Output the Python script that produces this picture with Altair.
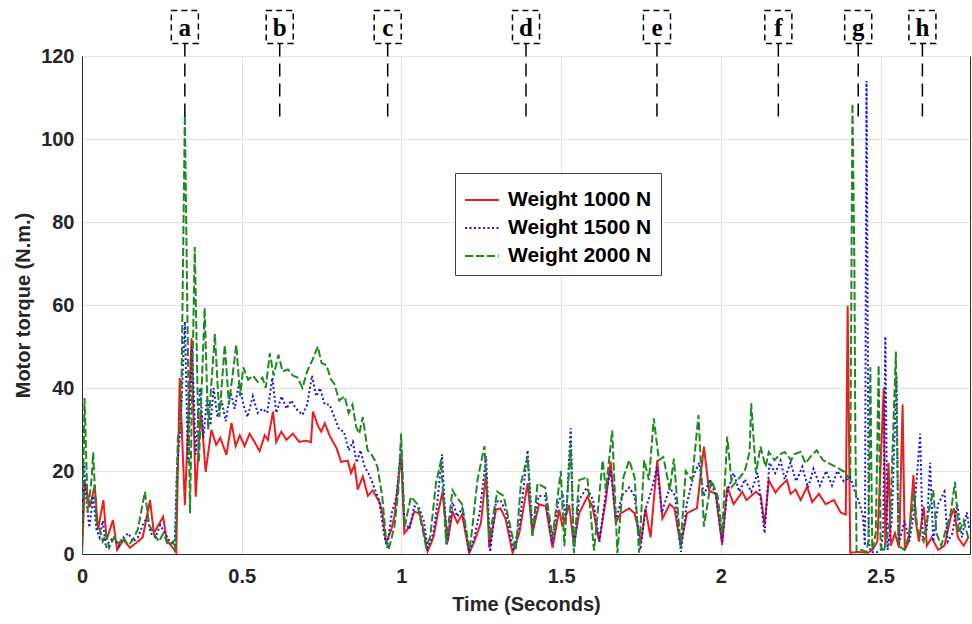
import altair as alt
import pandas as pd

series_names = ["Weight 1000 N", "Weight 1500 N", "Weight 2000 N"]
series_colors = ["#ee1c1c", "#1414f0", "#1e8a1e"]
series_dashes = [[1, 0], [2, 2.5], [8, 3]]

red_t = [
    0.000, 0.009, 0.025, 0.040, 0.050, 0.067, 0.077, 0.097, 0.110, 0.130,
    0.150, 0.170, 0.190, 0.213, 0.225, 0.254, 0.265, 0.286, 0.295, 0.306,
    0.322, 0.343, 0.356, 0.372, 0.387, 0.405, 0.420, 0.433, 0.452, 0.468,
    0.481, 0.494, 0.509, 0.525, 0.540, 0.556, 0.572, 0.582, 0.598, 0.608,
    0.624, 0.640, 0.660, 0.680, 0.700, 0.717, 0.723, 0.738, 0.749, 0.760,
    0.776, 0.797, 0.811, 0.832, 0.842, 0.853, 0.863, 0.879, 0.895, 0.910,
    0.932, 0.940, 0.952, 0.968, 0.978, 0.999, 1.009, 1.025, 1.040, 1.056,
    1.066, 1.082, 1.100, 1.114, 1.129, 1.145, 1.160, 1.175, 1.190, 1.212,
    1.227, 1.249, 1.265, 1.275, 1.296, 1.310, 1.326, 1.348, 1.369, 1.395,
    1.410, 1.431, 1.452, 1.473, 1.494, 1.504, 1.525, 1.540, 1.556, 1.582,
    1.598, 1.619, 1.640, 1.655, 1.671, 1.686, 1.713, 1.730, 1.750, 1.764,
    1.780, 1.801, 1.817, 1.840, 1.855, 1.874, 1.894, 1.910, 1.925, 1.947,
    1.963, 1.984, 2.004, 2.020, 2.040, 2.067, 2.080, 2.110, 2.125, 2.137,
    2.150, 2.171, 2.185, 2.207, 2.218, 2.234, 2.250, 2.270, 2.286, 2.307,
    2.328, 2.354, 2.375, 2.391, 2.397, 2.405, 2.430, 2.460, 2.475, 2.490,
    2.510, 2.515, 2.525, 2.532, 2.545, 2.558, 2.569, 2.576, 2.588, 2.603,
    2.610, 2.620, 2.635, 2.645, 2.660, 2.680, 2.700, 2.720, 2.730, 2.742,
    2.760, 2.775]
red_y = [
    0.0, 17.4, 11.4, 16.6, 5.8, 13.0, 3.4, 8.2, 1.0, 3.4,
    1.5, 2.7, 4.0, 13.0, 5.0, 9.0, 3.4, 1.3, 0.3, 42.4,
    11.8, 52.0, 13.8, 34.7, 19.8, 29.9, 26.3, 28.0, 23.9, 31.6,
    26.0, 28.6, 26.0, 29.0, 27.0, 24.8, 28.6, 27.5, 34.3, 27.0,
    29.5, 27.5, 29.0, 27.0, 27.3, 27.0, 34.3, 31.0, 29.5, 31.5,
    28.4, 25.5, 22.2, 22.5, 19.5, 21.5, 15.5, 18.7, 14.0, 15.3,
    12.4, 10.0, 2.6, 5.8, 9.0, 24.2, 5.0, 6.5, 10.2, 9.8,
    6.8, 0.6, 4.0, 9.8, 15.0, 3.0, 10.2, 7.5, 9.5, 0.2,
    2.8, 7.5, 19.5, 1.5, 10.7, 11.0, 8.5, 0.2, 5.0, 17.0,
    5.0, 12.0, 11.5, 1.5, 10.7, 6.6, 11.8, 2.0, 9.8, 13.8,
    11.5, 3.0, 13.0, 22.3, 7.5, 9.8, 11.0, 9.8, 3.0, 11.0,
    4.0, 22.6, 8.5, 12.0, 11.0, 2.0, 9.8, 10.5, 11.0, 25.9,
    15.3, 14.5, 2.2, 16.2, 12.0, 15.0, 13.0, 15.0, 14.0, 7.0,
    17.8, 14.8, 16.2, 17.8, 14.5, 15.5, 13.0, 16.2, 12.5, 14.5,
    12.0, 13.0, 10.0, 9.5, 59.8, 0.3, 0.5, 0.3, 1.0, 3.0,
    40.0, 2.0, 22.0, 2.0, 5.0, 1.5, 36.0, 1.0, 3.0, 19.0,
    8.0, 3.0, 11.4, 2.0, 4.0, 1.0, 2.0, 9.0, 11.0, 4.0,
    2.0, 4.0]

blue_t = [
    0.000, 0.006, 0.015, 0.023, 0.035, 0.045, 0.055, 0.065, 0.075, 0.085,
    0.100, 0.115, 0.130, 0.145, 0.160, 0.175, 0.190, 0.205, 0.215, 0.230,
    0.245, 0.260, 0.275, 0.290, 0.298, 0.308, 0.322, 0.332, 0.345, 0.356,
    0.370, 0.380, 0.392, 0.402, 0.412, 0.424, 0.437, 0.450, 0.465, 0.478,
    0.492, 0.505, 0.518, 0.535, 0.550, 0.565, 0.580, 0.596, 0.608, 0.625,
    0.640, 0.655, 0.670, 0.690, 0.705, 0.720, 0.733, 0.745, 0.760, 0.775,
    0.790, 0.805, 0.820, 0.835, 0.848, 0.860, 0.872, 0.885, 0.900, 0.915,
    0.930, 0.945, 0.955, 0.970, 0.985, 0.999, 1.009, 1.025, 1.040, 1.056,
    1.070, 1.082, 1.100, 1.112, 1.127, 1.142, 1.160, 1.175, 1.190, 1.212,
    1.227, 1.245, 1.265, 1.278, 1.296, 1.310, 1.328, 1.350, 1.370, 1.395,
    1.410, 1.430, 1.450, 1.472, 1.492, 1.505, 1.515, 1.530, 1.540, 1.556,
    1.580, 1.600, 1.620, 1.640, 1.655, 1.672, 1.690, 1.713, 1.730, 1.748,
    1.765, 1.785, 1.800, 1.815, 1.840, 1.857, 1.875, 1.893, 1.915, 1.932,
    1.947, 1.965, 1.985, 2.004, 2.020, 2.040, 2.058, 2.075, 2.095, 2.115,
    2.137, 2.152, 2.170, 2.187, 2.200, 2.218, 2.236, 2.255, 2.273, 2.290,
    2.310, 2.330, 2.348, 2.365, 2.385, 2.405, 2.420, 2.435, 2.445, 2.451,
    2.456, 2.463, 2.470, 2.485, 2.500, 2.508, 2.515, 2.522, 2.535, 2.550,
    2.556, 2.575, 2.590, 2.605, 2.624, 2.632, 2.645, 2.655, 2.665, 2.680,
    2.700, 2.710, 2.725, 2.740, 2.755, 2.770, 2.778]
blue_y = [
    0.0, 22.0, 12.0, 6.4, 14.0, 6.0, 4.0, 8.0, 1.5, 3.0,
    4.0, 2.0, 4.0, 5.0, 3.0, 4.0, 7.0, 9.0, 5.0, 4.0,
    7.0, 5.0, 3.0, 2.0, 22.0, 30.0, 56.0, 22.0, 50.0, 24.0,
    40.0, 28.0, 38.0, 31.0, 40.0, 33.0, 37.0, 32.0, 39.0, 35.0,
    41.5, 36.0, 33.0, 38.0, 34.0, 35.0, 34.0, 42.5, 34.0, 38.0,
    35.0, 37.0, 35.0, 33.5, 36.0, 43.0, 38.0, 40.0, 36.0, 36.0,
    33.0, 30.0, 29.5, 25.0, 27.0, 22.0, 25.0, 21.0, 19.0, 16.0,
    13.0, 5.0, 1.5, 10.0, 14.0, 26.0, 8.0, 6.0, 11.5, 11.0,
    8.0, 1.5, 5.0, 12.0, 24.0, 2.0, 12.5, 9.0, 11.0, 0.5,
    3.5, 10.0, 23.5, 0.5, 12.5, 13.0, 10.0, 1.0, 7.0, 25.0,
    6.0, 14.0, 14.0, 2.5, 13.0, 14.0, 8.0, 30.3, 1.0, 13.0,
    16.0, 13.0, 3.0, 15.0, 20.0, 8.0, 14.0, 16.0, 14.0, 1.0,
    11.0, 16.0, 21.0, 10.0, 16.0, 14.0, 0.5, 12.0, 19.0, 22.0,
    14.0, 18.0, 14.0, 3.0, 15.0, 19.5, 15.0, 18.0, 15.0, 19.5,
    5.0, 22.0, 19.5, 22.5, 18.0, 22.0, 17.5, 21.0, 16.0, 20.5,
    16.5, 20.0, 16.5, 20.0, 17.5, 18.5, 15.0, 12.0, 9.0, 2.0,
    114.0, 3.0, 0.5, 0.3, 1.0, 5.0, 52.4, 1.0, 8.0, 42.5,
    2.0, 8.0, 3.0, 10.0, 29.0, 4.0, 6.0, 22.0, 3.0, 12.0,
    15.0, 3.0, 5.0, 12.0, 4.0, 10.0, 6.0]

green_t = [
    0.000, 0.008, 0.018, 0.030, 0.035, 0.045, 0.055, 0.065, 0.075, 0.085,
    0.100, 0.115, 0.130, 0.145, 0.160, 0.175, 0.197, 0.210, 0.225, 0.240,
    0.255, 0.270, 0.285, 0.292, 0.300, 0.310, 0.322, 0.338, 0.353, 0.366,
    0.384, 0.395, 0.416, 0.430, 0.447, 0.460, 0.483, 0.495, 0.505, 0.520,
    0.535, 0.550, 0.565, 0.575, 0.588, 0.600, 0.615, 0.628, 0.645, 0.660,
    0.675, 0.690, 0.705, 0.720, 0.738, 0.750, 0.765, 0.780, 0.790, 0.805,
    0.822, 0.835, 0.847, 0.858, 0.868, 0.879, 0.894, 0.906, 0.916, 0.925,
    0.940, 0.952, 0.960, 0.978, 0.990, 0.999, 1.010, 1.030, 1.050, 1.077,
    1.090, 1.108, 1.124, 1.140, 1.160, 1.170, 1.190, 1.213, 1.220, 1.238,
    1.260, 1.275, 1.300, 1.320, 1.348, 1.358, 1.374, 1.395, 1.410, 1.426,
    1.450, 1.473, 1.499, 1.510, 1.530, 1.540, 1.556, 1.582, 1.603, 1.630,
    1.640, 1.660, 1.676, 1.695, 1.713, 1.730, 1.744, 1.760, 1.775, 1.790,
    1.806, 1.820, 1.840, 1.853, 1.874, 1.890, 1.910, 1.930, 1.947, 1.970,
    1.990, 2.004, 2.020, 2.035, 2.060, 2.075, 2.090, 2.095, 2.110, 2.124,
    2.140, 2.150, 2.168, 2.185, 2.200, 2.220, 2.230, 2.250, 2.265, 2.280,
    2.300, 2.320, 2.340, 2.360, 2.387, 2.405, 2.412, 2.418, 2.421, 2.425,
    2.440, 2.455, 2.462, 2.468, 2.474, 2.485, 2.494, 2.500, 2.510, 2.530,
    2.548, 2.556, 2.575, 2.590, 2.605, 2.615, 2.635, 2.650, 2.665, 2.675,
    2.690, 2.705, 2.720, 2.733, 2.745, 2.760, 2.778]
green_y = [
    0.0, 37.6, 10.0, 18.0, 24.5, 8.0, 6.0, 3.0, 5.0, 1.5,
    4.0, 2.5, 4.0, 2.0, 3.5, 6.0, 15.0, 7.0, 5.0, 3.0,
    5.0, 2.0, 3.0, 1.0, 28.0, 31.0, 105.8, 9.8, 74.0, 22.0,
    59.3, 30.0, 53.0, 33.0, 50.4, 36.0, 50.4, 38.0, 45.0, 42.0,
    43.0, 41.5, 42.5, 40.0, 48.4, 43.0, 48.0, 44.0, 44.5, 43.0,
    42.5, 40.0, 44.0, 46.5, 50.0, 46.0, 45.5, 42.0, 41.0, 37.0,
    38.0, 34.0, 36.0, 30.7, 29.0, 33.0, 25.0, 24.0, 22.7, 21.0,
    13.8, 3.4, 1.0, 6.6, 15.0, 29.0, 6.6, 13.8, 12.0, 1.8,
    4.0, 17.0, 22.6, 2.6, 15.4, 14.0, 12.0, 1.0, 5.0, 17.8,
    26.0, 3.8, 15.0, 14.0, 4.0, 0.8, 17.0, 23.5, 4.0, 17.0,
    16.0, 4.0, 20.0, 1.9, 26.7, 0.2, 17.8, 18.5, 0.8, 22.6,
    15.4, 29.8, 0.2, 18.5, 22.6, 18.5, 0.3, 22.6, 17.8, 32.7,
    22.6, 23.4, 15.4, 23.0, 1.9, 20.0, 17.8, 33.5, 6.6, 17.8,
    14.0, 5.0, 28.3, 16.2, 18.5, 20.0, 24.6, 36.3, 19.4, 25.9,
    21.0, 24.6, 22.6, 24.0, 24.6, 22.6, 24.0, 24.6, 21.8, 23.4,
    25.0, 22.6, 21.8, 21.0, 19.8, 17.8, 108.6, 70.0, 30.0, 0.5,
    1.0, 0.5, 3.0, 45.0, 1.0, 5.0, 45.5, 2.0, 0.5, 8.0,
    48.8, 2.0, 1.0, 5.0, 14.7, 6.0, 3.0, 10.0, 15.4, 5.0,
    2.0, 6.0, 10.0, 17.4, 5.0, 8.0, 3.0]

marker_labels = ["a", "b", "c", "d", "e", "f", "g", "h"]
marker_times = [0.322, 0.619, 0.957, 1.390, 1.800, 2.180, 2.430, 2.631]

x_ticks = [0, 0.5, 1, 1.5, 2, 2.5]
y_ticks = [0, 20, 40, 60, 80, 100, 120]

rows = []
for name, ts, ys in zip(series_names, [red_t, blue_t, green_t], [red_y, blue_y, green_y]):
    n = min(len(ts), len(ys))
    for i in range(n):
        rows.append({"series": name, "t": ts[i], "torque": ys[i]})
df = pd.DataFrame(rows)
ann = pd.DataFrame({"label": marker_labels, "t": marker_times})

xscale = alt.Scale(domain=[0, 2.78], nice=False, zero=False)
yscale = alt.Scale(domain=[0, 120], nice=False)

leg = alt.Legend(
    title=None, orient="none", legendX=373, legendY=117,
    symbolType="stroke", symbolSize=1150, symbolStrokeWidth=2,
    labelFont="Liberation Sans", labelFontWeight="bold", labelFontSize=21,
    labelColor="black", padding=9, rowPadding=0, strokeColor="#444444",
    fillColor="white", labelOffset=8, symbolOffset=0, offset=0,
)

lines = alt.Chart(df).mark_line(strokeWidth=2, clip=True).encode(
    x=alt.X("t:Q", scale=xscale, title="Time (Seconds)",
            axis=alt.Axis(values=x_ticks, format="~g", labelPadding=12, titlePadding=8,
                          labelFlush=False)),
    y=alt.Y("torque:Q", scale=yscale, title="Motor torque (N.m.)",
            axis=alt.Axis(values=y_ticks, format="d", labelPadding=8, titlePadding=7,
                          labelFlush=False)),
    color=alt.Color("series:N", scale=alt.Scale(domain=series_names, range=series_colors), legend=leg),
    strokeDash=alt.StrokeDash("series:N", scale=alt.Scale(domain=series_names, range=series_dashes), legend=leg),
)

stems = alt.Chart(ann).mark_rule(color="black", strokeWidth=1.5, strokeDash=[13, 7], clip=False).encode(
    x=alt.X("t:Q", title="Time (Seconds)"),
    y=alt.datum(123.0),
    y2=alt.datum(104.8),
)

boxes = alt.Chart(ann).mark_point(
    shape="M-0.82,-1H0.82V1H-0.82Z", size=1089, filled=False, color="black",
    strokeWidth=1.5, strokeDash=[6, 4], clip=False, opacity=1,
).encode(
    x=alt.X("t:Q", title="Time (Seconds)"),
    y=alt.datum(127.0),
)

letters = alt.Chart(ann).mark_text(
    font="Liberation Serif", fontWeight="bold", fontSize=25, baseline="middle",
    align="center", clip=False, color="black", dy=1,
).encode(
    x=alt.X("t:Q", title="Time (Seconds)"),
    y=alt.datum(127.0),
    text="label:N",
)

chart = alt.layer(lines, stems, boxes, letters).properties(
    width=888, height=498,
    autosize=alt.AutoSizeParams(type="none"),
    padding={"left": 82, "top": 56, "right": 2, "bottom": 70},
    background="white",
).configure_view(
    stroke="#262626", strokeWidth=1
).configure_axis(
    labelFont="Liberation Sans", labelFontWeight="bold", labelFontSize=20, labelColor="#262626",
    titleFont="Liberation Sans", titleFontWeight="bold", titleFontSize=20, titleColor="#262626",
    gridColor="#e2e2e2", gridWidth=1, domainColor="#262626", ticks=False,
)

chart.save("out.html", embed_options={"renderer": "svg", "actions": False})
